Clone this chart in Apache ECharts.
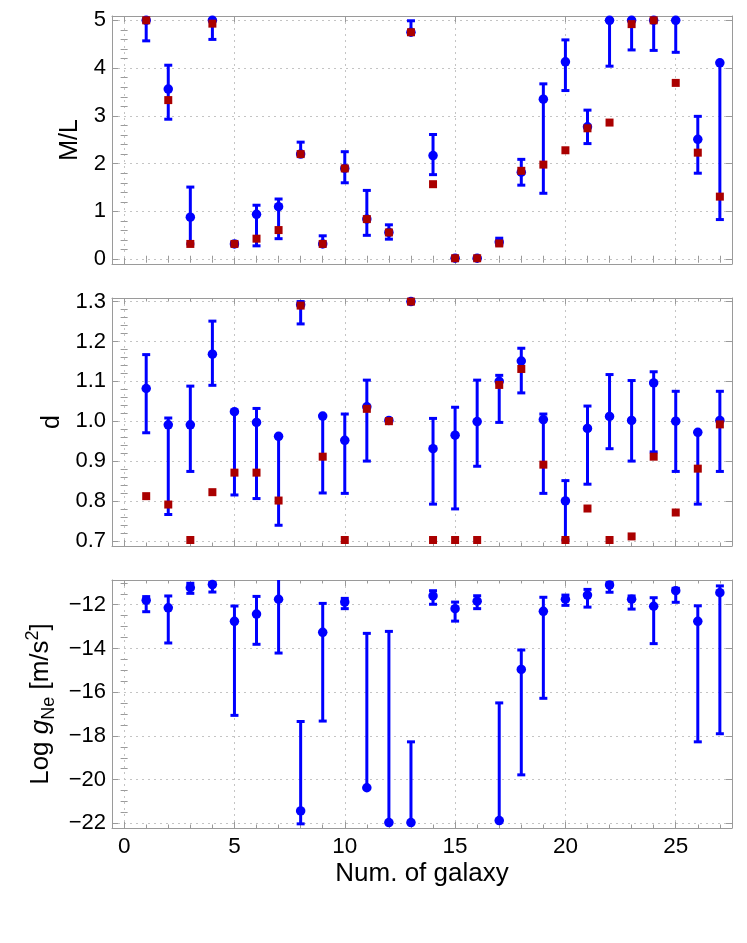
<!DOCTYPE html>
<html>
<head>
<meta charset="utf-8">
<script src="https://cdn.jsdelivr.net/npm/echarts@6/dist/echarts.min.js"></script>
<style>
html, body { margin: 0; padding: 0; background: #fff; }
#chart { width: 747px; height: 943px; }
</style>
</head>
<body>
<div id="chart"></div>
<script>
// galaxy index
var galaxies = [1, 2, 3, 4, 5, 6, 7, 8, 9, 10, 11, 12, 13, 14, 15, 16, 17, 18, 19, 20, 21, 22, 23, 24, 25, 26, 27];

// M/L : best value, error range, model (red squares)
var mlValue = [5.0, 3.56, 0.88, 5.0, 0.32, 0.94, 1.10, 2.20, 0.32, 1.90, 0.84, 0.56, 4.75, 2.17, 0.02, 0.02, 0.36, 1.82, 3.35, 4.13, 2.77, 5.0, 5.0, 5.0, 5.0, 2.51, 4.11];
var mlLow = [4.57, 2.93, 0.32, 4.60, 0.29, 0.28, 0.43, 2.18, 0.31, 1.60, 0.50, 0.42, 4.72, 1.77, 0.0, 0.0, 0.30, 1.55, 1.38, 3.53, 2.42, 4.04, 4.38, 4.37, 4.33, 1.80, 0.83];
var mlHigh = [5.0, 4.06, 1.51, 5.0, 0.35, 1.13, 1.26, 2.45, 0.49, 2.25, 1.44, 0.72, 4.99, 2.61, 0.04, 0.04, 0.44, 2.09, 3.67, 4.59, 3.12, 5.0, 5.0, 5.0, 5.0, 2.99, 4.11];
var mlFit = [5.0, 3.33, 0.32, 4.93, 0.32, 0.43, 0.61, 2.20, 0.32, 1.90, 0.84, 0.56, 4.75, 1.57, 0.02, 0.02, 0.33, 1.85, 1.98, 2.28, 2.74, 2.86, 4.92, 5.0, 3.69, 2.23, 1.31];

// d
var dValue = [1.082, 0.991, 0.991, 1.168, 1.024, 0.997, 0.962, 1.292, 1.013, 0.952, 1.036, 1.002, 1.300, 0.931, 0.965, 0.999, 1.100, 1.151, 1.004, 0.800, 0.982, 1.012, 1.002, 1.096, 1.000, 0.972, 1.002];
var dLow = [0.971, 0.766, 0.874, 1.090, 0.815, 0.806, 0.739, 1.244, 0.820, 0.819, 0.900, 1.002, 1.300, 0.792, 0.780, 0.887, 0.997, 1.071, 0.819, 0.702, 0.842, 0.931, 0.900, 0.923, 0.874, 0.792, 0.874];
var dHigh = [1.167, 1.008, 1.088, 1.251, 1.024, 1.032, 0.962, 1.300, 1.013, 1.018, 1.103, 1.002, 1.300, 1.007, 1.035, 1.103, 1.115, 1.183, 1.018, 0.851, 1.038, 1.117, 1.102, 1.124, 1.075, 0.972, 1.075];
var dFit = [0.812, 0.791, 0.702, 0.822, 0.871, 0.871, 0.801, 1.290, 0.911, 0.702, 1.031, 1.000, 1.300, 0.702, 0.702, 0.702, 1.091, 1.131, 0.891, 0.702, 0.781, 0.702, 0.711, 0.911, 0.771, 0.881, 0.992];

// Log g_Ne
var gValue = [-11.80, -12.14, -11.22, -11.08, -12.76, -12.43, -11.75, -21.43, -13.26, -11.88, -20.37, -21.96, -21.96, -11.60, -12.18, -11.84, -21.87, -14.96, -12.30, -11.75, -11.56, -11.10, -11.75, -12.07, -11.36, -12.76, -11.45];
var gLow = [-12.32, -13.75, -11.48, -11.42, -17.06, -13.81, -14.21, -22.02, -17.32, -12.18, -20.37, -21.96, -21.96, -11.98, -12.75, -12.18, -21.87, -19.78, -16.28, -12.03, -12.11, -11.43, -12.20, -13.78, -11.89, -18.27, -17.90];
var gHigh = [-11.63, -11.60, -11.02, -10.99, -12.06, -11.62, -10.40, -17.34, -11.94, -11.71, -13.31, -13.22, -18.27, -11.36, -11.88, -11.59, -16.49, -14.07, -11.66, -11.56, -11.30, -10.99, -11.60, -11.68, -11.25, -12.05, -11.14];

// tick labels
var xTicks = [0, 5, 10, 15, 20, 25];
var mlTicks = [0, 1, 2, 3, 4, 5];
var dTicks = [0.7, 0.8, 0.9, 1.0, 1.1, 1.2, 1.3];
var gTicks = [-22, -20, -18, -16, -14, -12];

var BLUE = '#0000ff';
var RED = '#aa0000';
var FRAME = '#9a9a9a';
var FONT = "'Liberation Sans', Arial, sans-serif";

function minorsOf(majors, n, lo, hi) {
  var step = (majors[1] - majors[0]) / n;
  var out = [];
  var start = majors[0] - Math.ceil((majors[0] - lo) / step) * step;
  for (var v = start; v <= hi + 1e-9; v += step) {
    var r = Math.round(v * 1e6) / 1e6;
    var isMajor = majors.some(function (m) { return Math.abs(m - r) < 1e-6; });
    if (!isMajor && r > lo && r < hi) out.push(r);
  }
  return out;
}

function fmt(digits) {
  return function (v) { return v.toFixed(digits).replace('-', '\u2212'); };
}

var xMin = -0.55, xMax = 27.55;

var panels = [
  { top: 16, min: -0.1, max: 5.09, ticks: mlTicks, minorN: 5, split: 5, digits: 0,
    name: 'M/L', nameGap: 26 },
  { top: 298, min: 0.687, max: 1.309, ticks: dTicks, minorN: 5, split: 6, digits: 1,
    name: 'd', nameGap: 44 },
  { top: 580, min: -22.21, max: -10.87, ticks: gTicks, minorN: 4, split: 6, digits: 0,
    name: '{n|Log }{i|g}{sub|Ne}{n| [m/s}{sup|2}{n|]}', nameGap: 46 }
];

var grids = [], xAxes = [], yAxes = [], series = [];

panels.forEach(function (p, i) {
  grids.push({ left: 112, width: 620, top: p.top, height: 248 });
  var last = i === panels.length - 1;
  var xMinor = minorsOf(xTicks, 5, xMin, xMax);
  var yMinor = minorsOf(p.ticks, p.minorN, p.min, p.max);

  // x axes: bottom major, bottom minor, top major, top minor
  ['bottom', 'top'].forEach(function (pos) {
    xAxes.push({
      type: 'value', gridIndex: i, position: pos, min: xMin, max: xMax, splitNumber: 5,
      axisLine: { show: true, onZero: false, lineStyle: { color: FRAME, width: 1 } },
      axisTick: { show: true, inside: true, length: 6, customValues: xTicks, lineStyle: { color: FRAME } },
      axisLabel: { show: last && pos === 'bottom', customValues: xTicks, margin: 7,
        fontFamily: FONT, fontSize: 22.5, color: '#000' },
      splitLine: { show: pos === 'bottom', lineStyle: { color: '#c4c4c4', type: [2, 4], width: 1 } },
      name: last && pos === 'bottom' ? 'Num. of galaxy' : '',
      nameLocation: 'middle', nameGap: 33,
      nameTextStyle: { fontFamily: FONT, fontSize: 26, color: '#000' }
    });
    xAxes.push({
      type: 'value', gridIndex: i, position: pos, min: xMin, max: xMax,
      axisLine: { show: false },
      axisTick: { show: true, inside: true, length: 3.5, customValues: xMinor, lineStyle: { color: FRAME } },
      axisLabel: { show: false }, splitLine: { show: false }
    });
  });

  ['left', 'right'].forEach(function (pos) {
    yAxes.push({
      type: 'value', gridIndex: i, position: pos, min: p.min, max: p.max, splitNumber: p.split,
      axisLine: { show: true, onZero: false, lineStyle: { color: FRAME, width: 1 } },
      axisTick: { show: true, inside: true, length: 6, customValues: p.ticks, lineStyle: { color: FRAME } },
      axisLabel: { show: pos === 'left', customValues: p.ticks, margin: 6, formatter: fmt(p.digits),
        fontFamily: FONT, fontSize: 22, color: '#000' },
      splitLine: { show: pos === 'left', lineStyle: { color: '#c4c4c4', type: [2, 4], width: 1 } },
      name: pos === 'left' ? p.name : '',
      nameLocation: 'middle', nameRotate: 90, nameGap: p.nameGap,
      nameTextStyle: {
        fontFamily: FONT, fontSize: 25, color: '#000',
        rich: {
          n: { fontFamily: FONT, fontSize: 26, color: '#000', lineHeight: 34 },
          i: { fontFamily: FONT, fontSize: 26, color: '#000', fontStyle: 'italic', lineHeight: 34 },
          sub: { fontFamily: FONT, fontSize: 18, color: '#000', lineHeight: 18, verticalAlign: 'bottom' },
          sup: { fontFamily: FONT, fontSize: 18, color: '#000', lineHeight: 18, verticalAlign: 'top' }
        }
      }
    });
    yAxes.push({
      type: 'value', gridIndex: i, position: pos, min: p.min, max: p.max,
      axisLine: { show: false },
      axisTick: { show: true, inside: true, length: 3.5, customValues: yMinor, lineStyle: { color: FRAME } },
      axisLabel: { show: false }, splitLine: { show: false }
    });
  });
});

function errorBar(params, api) {
  var x = api.value(0);
  var lo = api.coord([x, api.value(1)]);
  var hi = api.coord([x, api.value(2)]);
  var w = 4;
  var style = { stroke: BLUE, lineWidth: 3 };
  return {
    type: 'group',
    children: [
      { type: 'line', shape: { x1: lo[0], y1: lo[1], x2: hi[0], y2: hi[1] }, style: style },
      { type: 'line', shape: { x1: lo[0] - w, y1: lo[1], x2: lo[0] + w, y2: lo[1] }, style: style },
      { type: 'line', shape: { x1: hi[0] - w, y1: hi[1], x2: hi[0] + w, y2: hi[1] }, style: style }
    ]
  };
}

function addPanel(i, value, low, high, fit) {
  var xi = i * 4, yi = i * 4;
  series.push({
    type: 'custom', xAxisIndex: xi, yAxisIndex: yi, clip: true, z: 3,
    renderItem: errorBar,
    encode: { x: 0, y: [1, 2] },
    data: galaxies.map(function (g, k) { return [g, low[k], high[k]]; })
  });
  series.push({
    type: 'scatter', xAxisIndex: xi, yAxisIndex: yi, z: 4,
    symbol: 'circle', symbolSize: 9.5, itemStyle: { color: BLUE, opacity: 1 },
    data: galaxies.map(function (g, k) { return [g, value[k]]; })
  });
  if (fit) {
    series.push({
      type: 'scatter', xAxisIndex: xi, yAxisIndex: yi, z: 5,
      symbol: 'rect', symbolSize: 8, itemStyle: { color: RED, opacity: 1 },
      data: galaxies.map(function (g, k) { return [g, fit[k]]; })
    });
  }
}

addPanel(0, mlValue, mlLow, mlHigh, mlFit);
addPanel(1, dValue, dLow, dHigh, dFit);
addPanel(2, gValue, gLow, gHigh, null);

var chart = echarts.init(document.getElementById('chart'));
chart.setOption({
  animation: false,
  backgroundColor: '#fff',
  grid: grids,
  xAxis: xAxes,
  yAxis: yAxes,
  series: series
});
</script>
</body>
</html>
